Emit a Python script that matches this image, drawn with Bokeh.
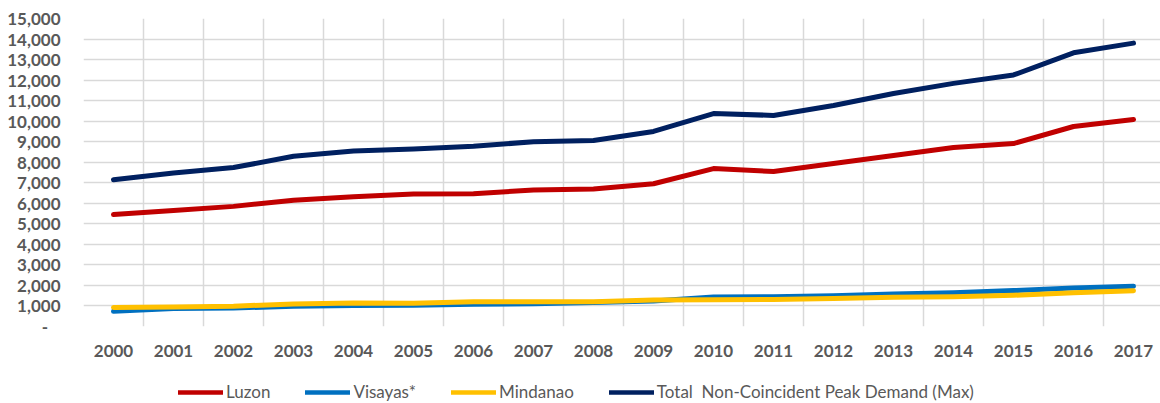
from bokeh.plotting import figure
from bokeh.layouts import column
from bokeh.models import (ColumnDataSource, FixedTicker, CustomJSTickFormatter,
                          Legend, LegendItem, Range1d)
from bokeh.embed import file_html
from bokeh.resources import INLINE

years = [2000, 2001, 2002, 2003, 2004, 2005, 2006, 2007, 2008,
         2009, 2010, 2011, 2012, 2013, 2014, 2015, 2016, 2017]
luzon = [5450, 5650, 5850, 6150, 6320, 6450, 6460, 6650, 6700,
         6950, 7690, 7550, 7940, 8330, 8720, 8910, 9740, 10080]
visayas = [740, 880, 900, 990, 1020, 1040, 1080, 1110, 1170,
           1240, 1440, 1450, 1500, 1580, 1640, 1750, 1870, 1960]
mindanao = [930, 950, 990, 1100, 1150, 1130, 1200, 1210, 1200,
            1290, 1300, 1320, 1360, 1420, 1450, 1520, 1640, 1740]
total = [7150, 7480, 7740, 8290, 8550, 8650, 8780, 9000, 9060,
         9500, 10370, 10280, 10760, 11350, 11840, 12250, 13330, 13800]

series_names = ["Luzon", "Visayas*", "Mindanao",
                "Total  Non-Coincident Peak Demand (Max)"]
series_values = [luzon, visayas, mindanao, total]
series_colors = ["#C00000", "#0070C0", "#FFC000", "#002060"]

y_ticks = list(range(0, 15001, 1000))

p = figure(frame_width=1077, frame_height=308, output_backend="svg",
           toolbar_location=None,
           x_range=Range1d(1999.5, 2017.45), y_range=Range1d(0, 15000),
           min_border_left=83, min_border_right=0, min_border_top=18,
           min_border_bottom=46)
p.outline_line_color = None
p.background_fill_color = "white"
p.border_fill_color = "white"

# grid
p.xgrid.ticker = FixedTicker(ticks=[y - 0.5 for y in years] + [2017.5])
p.ygrid.ticker = FixedTicker(ticks=y_ticks)
for g in (p.xgrid[0], p.ygrid[0]):
    g.grid_line_color = "#D9D9D9"
    g.grid_line_width = 1.5

# axes
p.xaxis.ticker = FixedTicker(ticks=years)
p.yaxis.ticker = FixedTicker(ticks=y_ticks)
p.yaxis.formatter = CustomJSTickFormatter(
    code="return tick == 0 ? '-\\u00a0\\u00a0\\u00a0' : tick.toLocaleString('en-US');")
for ax in (p.xaxis[0], p.yaxis[0]):
    ax.axis_line_color = None
    ax.major_tick_line_color = None
    ax.minor_tick_line_color = None
    ax.major_tick_out = 0
    ax.major_tick_in = 0
    ax.minor_tick_out = 0
    ax.minor_tick_in = 0
    ax.major_label_text_font = "Lato"
    ax.major_label_text_font_style = "bold"
    ax.major_label_text_font_size = "17px"
    ax.major_label_text_color = "#595959"
p.xaxis.major_label_standoff = 18
p.yaxis.major_label_standoff = 23

for name, vals, col in zip(series_names, series_values, series_colors):
    src = ColumnDataSource(dict(x=years, y=vals))
    p.line("x", "y", source=src, line_color=col, line_width=5,
           line_cap="round", line_join="round")

# legend strip below the chart (its frame is aligned with the chart's frame);
# the series are re-drawn there outside its visible range, so only the
# legend entries show
lg = figure(width=1160, height=31, output_backend="svg", toolbar_location=None,
            x_range=Range1d(0, 1), y_range=Range1d(0, 1),
            min_border=0, x_axis_location=None, y_axis_location=None)
lg.outline_line_color = None
lg.grid.visible = False
items = []
for name, vals, col in zip(series_names, series_values, series_colors):
    src = ColumnDataSource(dict(x=years, y=vals))
    r = lg.line("x", "y", source=src, line_color=col, line_width=4.5,
                line_cap="round")
    items.append(LegendItem(label=name, renderers=[r]))

legend = Legend(items=items, orientation="horizontal", location=(95, 1),
                label_text_font="Lato", label_text_font_size="17px",
                label_text_color="#595959", glyph_width=45, glyph_height=20,
                label_height=20, label_standoff=3, spacing=35,
                border_line_color=None, background_fill_alpha=0,
                padding=0, margin=0)
lg.add_layout(legend, "center")

layout = column(p, lg, spacing=0)
open("out.html", "w").write(file_html(layout, INLINE))
